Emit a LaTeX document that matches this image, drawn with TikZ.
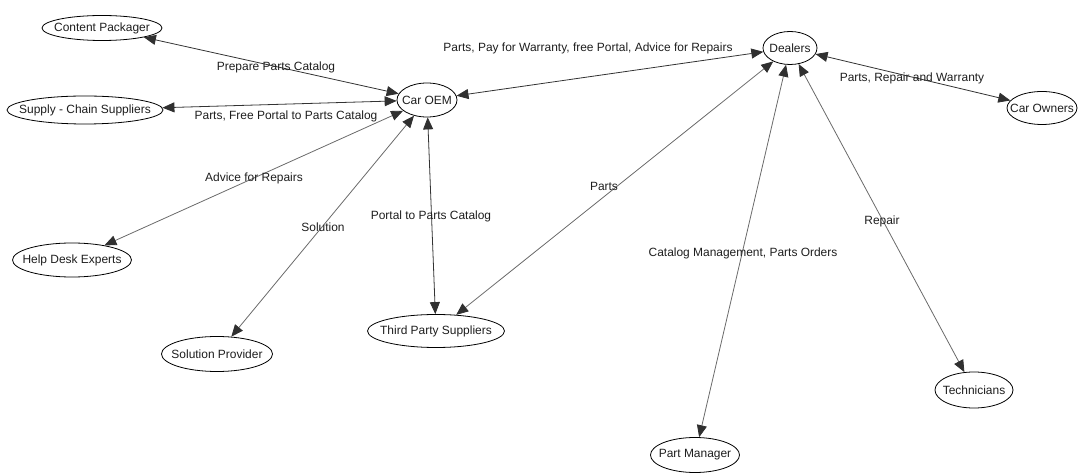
\documentclass[tikz,border=0pt]{standalone}
\usepackage{fontspec}
\setmainfont{Liberation Sans}
\usetikzlibrary{shapes.geometric,arrows.meta}
\definecolor{inkgray}{HTML}{1E1E1E}
\definecolor{linegray}{HTML}{6A6A6A}
\definecolor{tipgray}{HTML}{303030}
\tikzset{
  actor/.style={ellipse, draw=black, line width=0.8bp, fill=white, inner sep=0pt,
    font=\fontsize{12}{14}\selectfont, text=inkgray},
  rel/.style={font=\fontsize{12}{14}\selectfont, text=inkgray, inner sep=1bp},
  tip/.style={Triangle[length=12bp,width=10bp,color=tipgray]},
  link/.style={draw=linegray, line width=0.8bp, {Triangle[length=12bp,width=10bp,color=tipgray]}-{Triangle[length=12bp,width=10bp,color=tipgray]}},
  strong/.style={draw=black!80}
}
\newcommand{\lbl}[1]{\makebox[0pt]{#1}}
\begin{document}
\begin{tikzpicture}[x=1bp,y=-1bp]
\useasboundingbox (0,0) rectangle (1079,473);

% actors
\node[actor, minimum width=120bp, minimum height=25bp] (cp)  at (102,28)  {\lbl{Content Packager}};
\node[actor, minimum width=156bp, minimum height=28bp] (scs) at (85,110)  {\lbl{Supply - Chain Suppliers}};
\node[actor, minimum width=60bp,  minimum height=34bp] (oem) at (427,100) {\lbl{Car OEM}};
\node[actor, minimum width=54bp,  minimum height=33bp] (dl)  at (790,48)  {\lbl{Dealers}};
\node[actor, minimum width=70bp,  minimum height=33bp] (co)  at (1042,108) {\lbl{Car Owners}};
\node[actor, minimum width=119bp, minimum height=34bp] (hd)  at (72,260)  {\lbl{Help Desk Experts}};
\node[actor, minimum width=111bp, minimum height=35bp] (sp)  at (217,354) {\lbl{Solution Provider}};
\node[actor, minimum width=137bp, minimum height=33bp] (tp)  at (436,331) {\lbl{Third Party Suppliers}};
\node[actor, minimum width=89bp,  minimum height=35bp] (pm)  at (695,455) {\lbl{Part Manager}};
\node[actor, minimum width=78bp,  minimum height=36bp] (te)  at (974,390) {\lbl{Technicians}};

% relations
\draw[link, strong] (cp)  -- (oem);
\draw[link, strong] (scs) -- (oem);
\draw[link] (hd)  -- (oem);
\draw[link] (sp)  -- (oem);
\draw[link, strong] (tp)  -- (oem);
\draw[link, strong] (oem) -- (dl);
\draw[link, strong] (dl)  -- (co);
\draw[link] (tp)  -- (dl);
\draw[link] (pm)  -- (dl);
\draw[link] (te)  -- (dl);

% relation labels
\node[rel] (l1)  at (276,67)  {Prepare Parts Catalog};
\node[rel] (l2)  at (286,116) {Parts, Free Portal to Parts Catalog};
\node[rel] (l3)  at (588,48)  {Parts, Pay for Warranty, free Portal, Advice for Repairs};
\node[rel] (l4)  at (912,78)  {Parts, Repair and Warranty};
\node[rel] (l5)  at (254,178) {Advice for Repairs};
\node[rel] (l6)  at (323,227) {Solution};
\node[rel] (l7)  at (431,216) {Portal to Parts Catalog};
\node[rel] (l8)  at (604,186) {Parts};
\node[rel] (l9)  at (743,253) {Catalog Management, Parts Orders};
\node[rel] (l10) at (882,221) {Repair};
\end{tikzpicture}
\end{document}
